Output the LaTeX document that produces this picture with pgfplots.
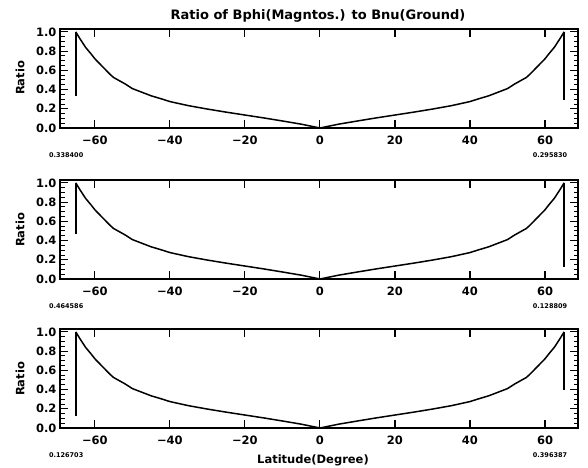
\documentclass[border=0pt]{standalone}
\usepackage{fontspec}
\setmainfont{DejaVu Sans}
\usepackage{pgfplots}
\usepackage{pgfplotstable}
\pgfplotsset{compat=1.18}

% ratio curve (same in all three panels)
\pgfplotstableread{
lat   ratio
-65.1 1.000
-64.0 0.930
-62.5 0.840
-61.0 0.770
-60.0 0.720
-58.0 0.640
-56.0 0.560
-55.0 0.525
-52.0 0.460
-50.0 0.410
-47.0 0.365
-45.0 0.335
-42.0 0.300
-40.0 0.275
-35.0 0.232
-30.0 0.197
-25.0 0.165
-20.0 0.135
-15.0 0.105
-10.0 0.073
-5.0  0.040
0.0   0.000
5.0   0.040
10.0  0.073
15.0  0.105
20.0  0.135
25.0  0.165
30.0  0.197
35.0  0.232
40.0  0.275
42.0  0.300
45.0  0.335
47.0  0.365
50.0  0.410
52.0  0.460
55.0  0.525
56.0  0.560
58.0  0.640
60.0  0.720
61.0  0.770
62.5  0.840
64.0  0.930
65.1  1.000
}\ratiocurve

\pgfplotsset{
  panel/.style={
    scale only axis, width=518pt, height=99pt, anchor=south west,
    xmin=-69.3, xmax=68.8, ymin=0, ymax=1.03,
    xtick={-60,-40,-20,0,20,40,60},
    xticklabels={−60,−40,−20,0,20,40,60},
    ytick={0,0.2,0.4,0.6,0.8,1.0},
    yticklabels={0.0,0.2,0.4,0.6,0.8,1.0},
    minor ytick={0.05,0.1,0.15,0.25,0.3,0.35,0.45,0.5,0.55,0.65,0.7,0.75,0.85,0.9,0.95},
    tick align=inside, tick pos=both,
    xticklabel pos=lower, yticklabel pos=left,
    major tick length=8pt, minor tick length=4.5pt,
    every tick/.style={black, line width=1.1pt},
    every minor tick/.style={black, line width=0.9pt},
    axis line style={line width=1.7pt},
    ticklabel style={font=\fontsize{11.5}{12}\selectfont\bfseries},
    xticklabel style={yshift=-4pt},
    clip=false,
  },
  curve/.style={black, line width=1.5pt, no markers},
}
\tikzset{corner/.style={font=\fontsize{6.5}{6.5}\selectfont\bfseries}}

\begin{document}
\begin{tikzpicture}
\useasboundingbox (0,0) rectangle (588pt,467pt);

% top panel
\begin{axis}[panel, at={(60pt,339pt)}]
  \addplot[curve] table[x=lat, y=ratio] {\ratiocurve};
  \addplot[curve] coordinates {(-65.1,1.0) (-65.1,0.338)};
  \addplot[curve] coordinates {(65.1,1.0) (65.1,0.296)};
  \node[corner] at (rel axis cs:0.012,0) [yshift=-27pt] {0.338400};
  \node[corner] at (rel axis cs:0.946,0) [yshift=-27pt] {0.295830};
\end{axis}

% middle panel
\begin{axis}[panel, at={(60pt,188pt)}]
  \addplot[curve] table[x=lat, y=ratio] {\ratiocurve};
  \addplot[curve] coordinates {(-65.1,1.0) (-65.1,0.465)};
  \addplot[curve] coordinates {(65.1,1.0) (65.1,0.129)};
  \node[corner] at (rel axis cs:0.012,0) [yshift=-27pt] {0.464586};
  \node[corner] at (rel axis cs:0.946,0) [yshift=-27pt] {0.128809};
\end{axis}

% bottom panel
\begin{axis}[panel, at={(60pt,39pt)}]
  \addplot[curve] table[x=lat, y=ratio] {\ratiocurve};
  \addplot[curve] coordinates {(-65.1,1.0) (-65.1,0.127)};
  \addplot[curve] coordinates {(65.1,1.0) (65.1,0.396)};
  \node[corner] at (rel axis cs:0.012,0) [yshift=-27pt] {0.126703};
  \node[corner] at (rel axis cs:0.946,0) [yshift=-27pt] {0.396387};
\end{axis}

\node[font=\fontsize{13}{14}\selectfont\bfseries] at (318pt,451pt) {Ratio of Bphi(Magntos.) to Bnu(Ground)};
\foreach \yc in {389,237,88}
  \node[rotate=90, font=\fontsize{11.5}{12}\selectfont\bfseries] at (20pt,\yc pt) {Ratio};
\node[font=\fontsize{11.5}{12}\selectfont\bfseries] at (313pt,7pt) {Latitude(Degree)};
\end{tikzpicture}
\end{document}
